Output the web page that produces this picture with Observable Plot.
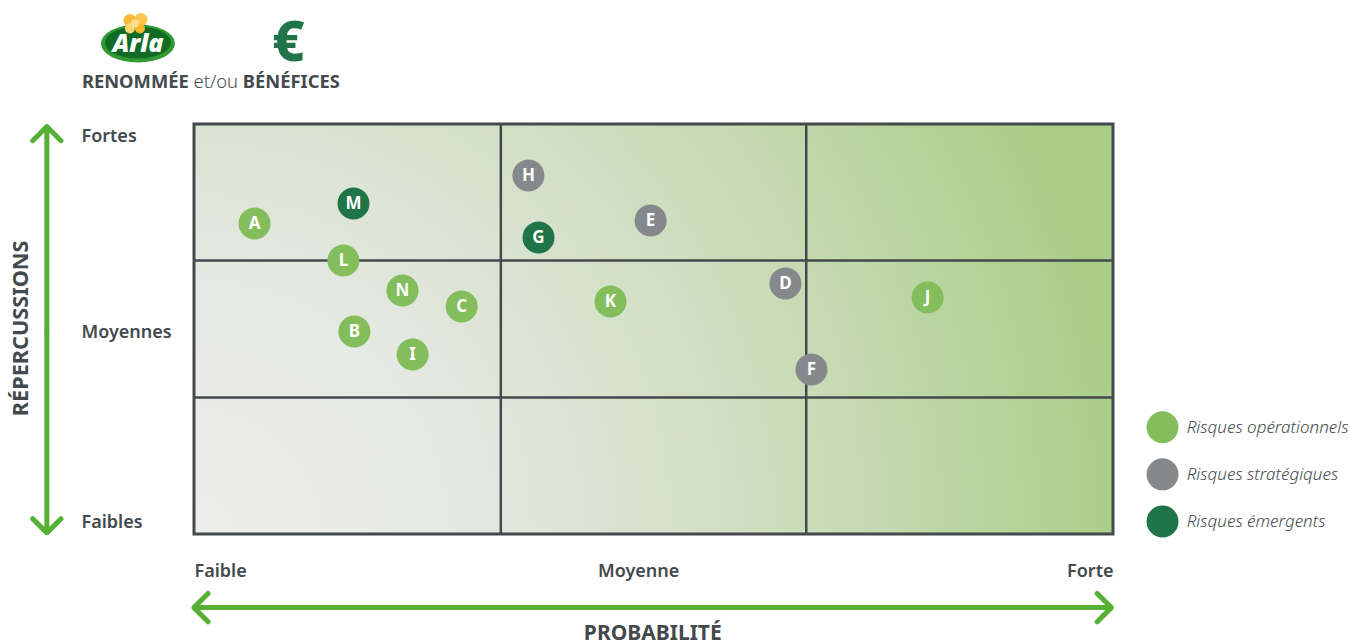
<!DOCTYPE html>
<html lang="fr"><head><meta charset="utf-8">
<style>html,body{margin:0;padding:0;background:#fff}svg{display:block}</style>
<script src="https://cdn.jsdelivr.net/npm/d3@7"></script>
<script src="https://cdn.jsdelivr.net/npm/@observablehq/plot@0.6"></script>
</head><body><div id="chart"></div>
<script>
const ink="#43494c", FONT="'Noto Sans',sans-serif";
const opColor="#83bd5c", stratColor="#85898c", emColor="#1f7547", arrowColor="#55b033";
const riskNames=["A","M","L","N","C","B","I","H","G","E","K","D","F","J"];
const riskProb=[0.196,0.519,0.486,0.679,0.872,0.522,0.712,1.09,1.123,1.489,1.358,1.929,2.014,2.393];
const riskImpact=[2.276,2.422,2.005,1.785,1.668,1.485,1.317,2.627,2.173,2.298,1.705,1.837,1.207,1.734];
const riskType=["op","em","op","op","op","op","op","strat","em","strat","op","strat","strat","op"];
const typeKeys=["op","strat","em"];
const typeColors=[opColor,stratColor,emColor];
const typeLabels=["Risques opérationnels","Risques stratégiques","Risques émergents"];
const legendX=3.16, legendLabelX=3.239, legendY=[0.785,0.44,0.095];
const impactLabels=["Fortes","Moyennes","Faibles"], impactLabelY=[2.915,1.482,0.09];
const probLabelY=-0.27;
const risks=riskNames.map((n,i)=>({n,x:riskProb[i],y:riskImpact[i],t:riskType[i]}));
const colorOf=Object.fromEntries(typeKeys.map((k,i)=>[k,typeColors[i]]));

const background=(index,{x,y})=>{
  const g=d3.create("svg:g");
  const grad=g.append("defs").append("radialGradient").attr("id","bg").attr("gradientUnits","userSpaceOnUse")
    .attr("cx",x(0)).attr("cy",y(0)).attr("r",x(3)-x(0)+20);
  [[0,"#ecedeb"],[0.25,"#e7e9e5"],[0.45,"#d9e3d0"],[0.7,"#c7dab4"],[1,"#a9cd86"]]
    .forEach(([o,c])=>grad.append("stop").attr("offset",o).attr("stop-color",c));
  g.append("rect").attr("x",x(0)).attr("y",y(3)).attr("width",x(3)-x(0)).attr("height",y(0)-y(3)).attr("fill","url(#bg)");
  return g.node();
};
const logo=(index,{x,y})=>{
  const cx=x(-0.183), cy=y(3.589);
  const g=d3.create("svg:g").attr("transform",`translate(${cx},${cy})`);
  g.append("ellipse").attr("cy",0).attr("rx",37).attr("ry",19).attr("fill","#2f9a2f");
  g.append("ellipse").attr("cy",-1).attr("rx",33).attr("ry",16).attr("fill","#0f6b26");
  [[-8,-23,6.5,"#f7b93a"],[3,-24,6.5,"#fbc74b"],[-8,-15,5,"#fdd873"],[2,-15,5,"#f8b52f"],[-3,-20,4,"#fbe08a"]]
    .forEach(([a,b,r,c])=>g.append("circle").attr("cx",a).attr("cy",b).attr("r",r).attr("fill",c));
  g.append("text").attr("text-anchor","middle").attr("y",8).attr("fill","#fff")
    .attr("font-family","'Open Sans',sans-serif").attr("font-style","italic").attr("font-weight",800).attr("font-size",25).text("Arla");
  return g.node();
};
const head=(index,{x,y})=>{
  const g=d3.create("svg:g").attr("font-family",FONT).attr("font-size",18.35).attr("fill",ink);
  const t=g.append("text").attr("text-anchor","start").attr("x",x(-0.366)).attr("y",y(3.263));
  t.append("tspan").attr("font-weight",700).text("RENOMMÉE");
  t.append("tspan").attr("font-weight",300).text(" et/ou ");
  t.append("tspan").attr("font-weight",700).text("BÉNÉFICES");
  return g.node();
};
const arrows=[{x1:-0.482,y1:1.5,x2:-0.482,y2:2.985},{x1:-0.482,y1:1.5,x2:-0.482,y2:0.012},
  {x1:1.5,y1:-0.535,x2:-0.002,y2:-0.535},{x1:1.5,y1:-0.535,x2:2.993,y2:-0.535}];

const plot=Plot.plot({
  width:1349,height:644,margin:0,marginLeft:194,marginRight:236,marginTop:124,marginBottom:110,
  x:{domain:[0,3],axis:null},y:{domain:[0,3],axis:null},
  style:{background:"#fff",fontFamily:FONT,overflow:"visible"},
  marks:[
    background,
    Plot.ruleX([1,1.997],{y1:0,y2:3,stroke:ink,strokeWidth:2.5}),
    Plot.ruleY([1.003,2.004],{x1:0,x2:3,stroke:ink,strokeWidth:2.5}),
    Plot.rect([0],{x1:0,x2:3,y1:0,y2:3,fill:"none",stroke:ink,strokeWidth:3}),
    Plot.arrow(arrows,{x1:"x1",y1:"y1",x2:"x2",y2:"y2",stroke:arrowColor,strokeWidth:5,headLength:6,headAngle:90,strokeLinecap:"round"}),
    Plot.dot(risks,{x:"x",y:"y",r:16,fill:d=>colorOf[d.t]}),
    Plot.text(risks,{x:"x",y:"y",text:"n",fill:"#fff",fontSize:17,fontWeight:700}),
    Plot.text(impactLabels,{x:-0.369,y:(d,i)=>impactLabelY[i],text:d=>d,textAnchor:"start",fontSize:18,fontWeight:600,fill:ink}),
    Plot.text(["Faible"],{x:0,y:probLabelY,text:d=>d,textAnchor:"start",fontSize:18,fontWeight:600,fill:ink}),
    Plot.text(["Moyenne"],{x:1.45,y:probLabelY,text:d=>d,fontSize:18,fontWeight:600,fill:ink}),
    Plot.text(["Forte"],{x:3,y:probLabelY,text:d=>d,textAnchor:"end",fontSize:18,fontWeight:600,fill:ink}),
    Plot.text(["RÉPERCUSSIONS"],{x:-0.565,y:1.508,text:d=>d,rotate:-90,fontSize:21.7,fontWeight:700,fill:ink}),
    Plot.text(["PROBABILITÉ"],{x:1.496,y:-0.725,text:d=>d,fontSize:21,fontWeight:700,fill:ink}),
    Plot.dot(typeKeys,{x:legendX,y:(d,i)=>legendY[i],r:16,fill:(d,i)=>typeColors[i]}),
    Plot.text(typeLabels,{x:legendLabelX,y:(d,i)=>legendY[i],text:d=>d,textAnchor:"start",fontSize:17,fontStyle:"italic",fontWeight:300,fill:ink}),
    logo,
    Plot.text(["€"],{x:0.307,y:3.595,text:d=>d,fontSize:56,fontWeight:800,fill:emColor}),
    head
  ]
});
document.getElementById("chart").append(plot);
</script></body></html>
